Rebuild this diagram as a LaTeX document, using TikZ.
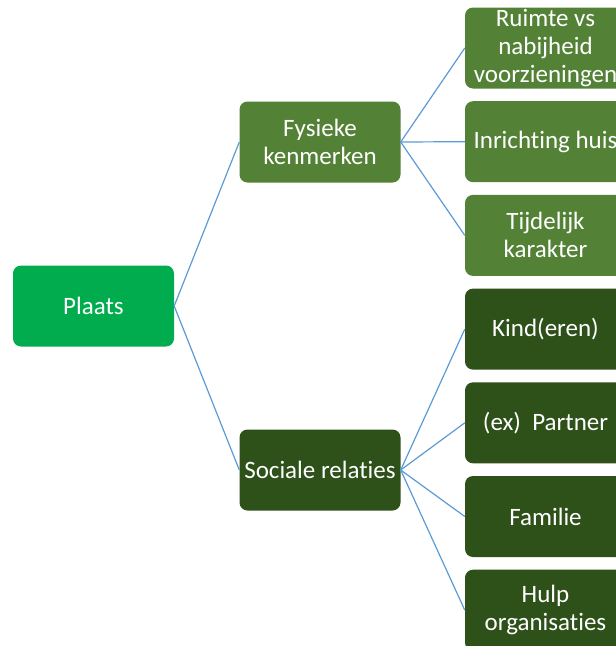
\documentclass[tikz,border=0pt]{standalone}
\usepackage{fontspec}
\setmainfont{Carlito}[Ligatures={NoCommon,NoRare}]
\definecolor{plaatsgroen}{RGB}{0,172,78}
\definecolor{fysiekgroen}{RGB}{83,129,53}
\definecolor{sociaalgroen}{RGB}{46,80,25}
\definecolor{takblauw}{RGB}{91,155,213}
\begin{document}
\begin{tikzpicture}[x=1pt,y=-1pt,
  blok/.style={rounded corners=8pt, text=white, minimum width=161pt, minimum height=81pt,
    inner sep=0pt, text width=159pt, align=flush center, font=\fontsize{25}{28}\selectfont},
  plaatsblok/.style={blok, fill=plaatsgroen},
  fysiekblok/.style={blok, fill=fysiekgroen},
  sociaalblok/.style={blok, fill=sociaalgroen},
  tak/.style={takblauw, line width=1.2pt}]
\useasboundingbox (0,0) rectangle (616,646);
\clip (0,0) rectangle (616,646);

% wortel en tweede niveau
\node[plaatsblok] (plaats) at (93.5,306) {Plaats};
\node[fysiekblok] (fysiek) at (320,142) {Fysieke\\kenmerken};
\node[sociaalblok] (sociaal) at (320,470) {Sociale relaties};

% fysieke kenmerken
\node[fysiekblok] (ruimte) at (545.5,48) {Ruimte vs\\nabijheid\\voorzieningen};
\node[fysiekblok] (inrichting) at (545.5,141.7) {Inrichting huis};
\node[fysiekblok] (tijdelijk) at (545.5,235.4) {Tijdelijk\\karakter};

% sociale relaties
\node[sociaalblok] (kind) at (545.5,329.1) {Kind(eren)};
\node[sociaalblok] (partner) at (545.5,422.8) {(ex)~~Partner};
\node[sociaalblok] (familie) at (545.5,516.5) {Familie};
\node[sociaalblok] (hulp) at (545.5,610.2) {Hulp\\organisaties};

% takken
\draw[tak] (plaats.east) -- (fysiek.west);
\draw[tak] (plaats.east) -- (sociaal.west);
\draw[tak] (fysiek.east) -- (ruimte.west);
\draw[tak] (fysiek.east) -- (inrichting.west);
\draw[tak] (fysiek.east) -- (tijdelijk.west);
\draw[tak] (sociaal.east) -- (kind.west);
\draw[tak] (sociaal.east) -- (partner.west);
\draw[tak] (sociaal.east) -- (familie.west);
\draw[tak] (sociaal.east) -- (hulp.west);
\end{tikzpicture}
\end{document}
